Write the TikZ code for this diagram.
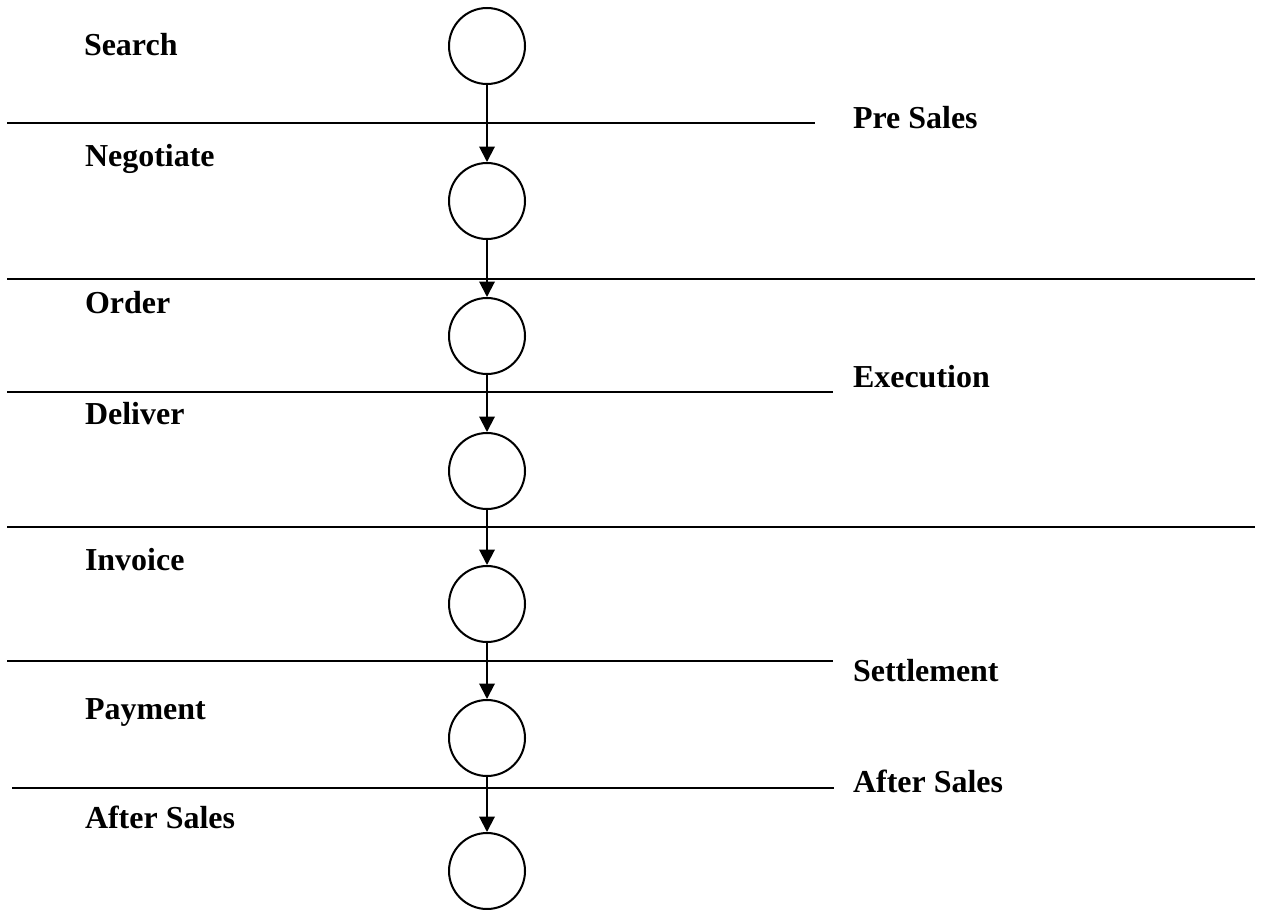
\documentclass[tikz,border=0pt]{standalone}
\usepackage{fontspec}
\setmainfont{Liberation Serif}
\usepackage{tikz}
\usetikzlibrary{arrows.meta}

\begin{document}
\begin{tikzpicture}
        [x=0.02cm,y=-0.02cm,line width=1.15pt,
         stage/.style={circle,draw,minimum size=1.52cm,inner sep=0pt},
         lbl/.style={anchor=base west,inner sep=0pt,font=\fontsize{18.2}{22}\selectfont\bfseries},
         flow/.style={-{Triangle[width=0.31cm,length=0.31cm]}}]
        \useasboundingbox (0,0) rectangle (1263,909);
        \node[stage] (search) at (487, 46) {};
        \node[stage] (negotiate) at (487,201) {};
        \node[stage] (order) at (487,336) {};
        \node[stage] (deliver) at (487,471) {};
        \node[stage] (invoice) at (487,604) {};
        \node[stage] (payment) at (487,738) {};
        \node[stage] (aftersales) at (487,871) {};

        % the steps
        \node[lbl] (tsearch) at (83, 56) {Search};
        \node[lbl] (tnegotiate) at (84,166) {Negotiate};
        \node[lbl] (torder) at (84,313) {Order};
        \node[lbl] (tdeliver) at (84,424) {Deliver};
        \node[lbl] (tinvoice) at (84,570) {Invoice};
        \node[lbl] (tpayment) at (84,719) {Payment};
        \node[lbl] (taftersales) at (84,828) {After Sales};

        % the phases
        \node[lbl] (presales) at (852,129) {Pre Sales};
        \node[lbl] (execution) at (852,387) {Execution};
        \node[lbl] (settlement) at (852,681) {Settlement};
        \node[lbl] (after) at (852,792) {After Sales};

        % the dividers
        \draw (7,123) -- (815,123);
        \draw (7,279) -- (1255,279);
        \draw (7,392) -- (833,392);
        \draw (7,527) -- (1255,527);
        \draw (7,661) -- (833,661);
        \draw (12,788) -- (834,788);

        % the flow
        \draw[flow] (search) -- (negotiate);
        \draw[flow] (negotiate) -- (order);
        \draw[flow] (order) -- (deliver);
        \draw[flow] (deliver) -- (invoice);
        \draw[flow] (invoice) -- (payment);
        \draw[flow] (payment) -- (aftersales);
    \end{tikzpicture}
\end{document}
